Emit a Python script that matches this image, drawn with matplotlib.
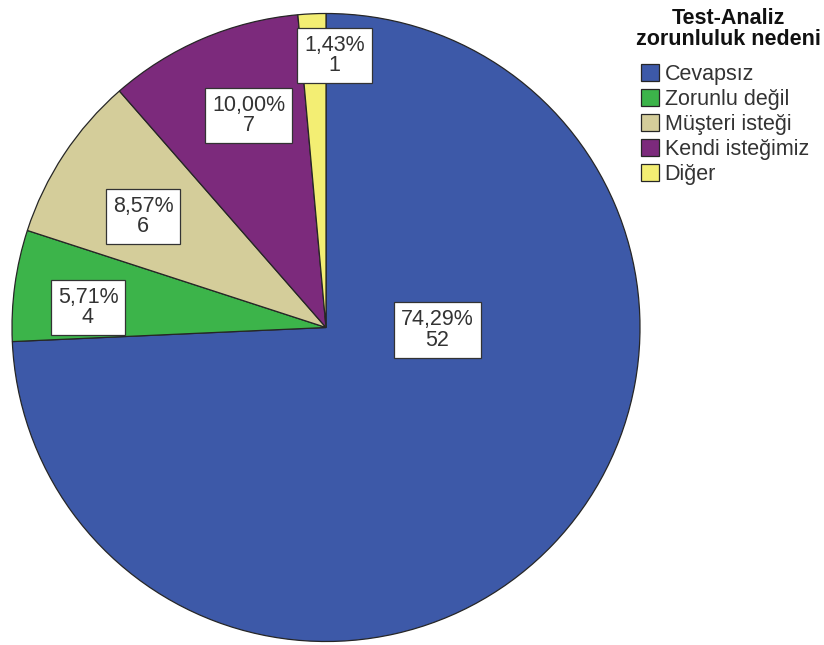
import matplotlib
matplotlib.use("Agg")
import matplotlib.pyplot as plt

plt.rcParams["font.family"] = ["Liberation Sans", "DejaVu Sans"]

categories = ["Cevapsız", "Zorunlu değil", "Müşteri isteği", "Kendi isteğimiz", "Diğer"]
counts = [52, 4, 6, 7, 1]
percent_labels = ["74,29%", "5,71%", "8,57%", "10,00%", "1,43%"]
colors = ["#3D59A8", "#3CB44A", "#D4CD9A", "#7C2A7C", "#F3EE73"]
legend_title = "Test-Analiz\nzorunluluk nedeni"

# label box centres, in pie-radius units
label_xy = [(0.354, -0.008), (-0.758, 0.064), (-0.583, 0.354), (-0.247, 0.675), (0.027, 0.866)]

fig = plt.figure(figsize=(8.24, 6.45), dpi=100)
ax = fig.add_axes([(326 - 314) / 824, (645 - 327.5 - 314) / 645, 628 / 824, 628 / 645])

wedges, _ = ax.pie(
    counts,
    colors=colors,
    startangle=90,
    counterclock=False,
    radius=1.0,
    wedgeprops=dict(edgecolor="#262626", linewidth=0.9),
)
ax.set_xlim(-1.0, 1.0)
ax.set_ylim(-1.0, 1.0)
ax.set_aspect("equal")
ax.axis("off")

for (x, y), pct, n in zip(label_xy, percent_labels, counts):
    ax.text(
        x, y, f"{pct}\n{n}",
        ha="center", va="center", fontsize=15.5, color="#333333", linespacing=0.95,
        bbox=dict(boxstyle="square,pad=0.33", facecolor="white", edgecolor="#333333", linewidth=0.9),
    )

# legend title drawn separately so it can be centred over the entries
fig.text(728 / 824, 1 - 29 / 645, legend_title, ha="center", va="center",
         fontsize=15.5, fontweight="bold", color="#111111", linespacing=1.0)

leg = fig.legend(
    wedges, categories,
    loc="upper left",
    bbox_to_anchor=(641 / 824, 1 - 64 / 645),
    frameon=False,
    fontsize=15.5,
    handlelength=0.85,
    handleheight=0.85,
    handletextpad=0.25,
    labelspacing=0.18,
    borderaxespad=0,
    borderpad=0,
)
for t in leg.get_texts():
    t.set_color("#333333")

fig.savefig("out.png", dpi=100)
